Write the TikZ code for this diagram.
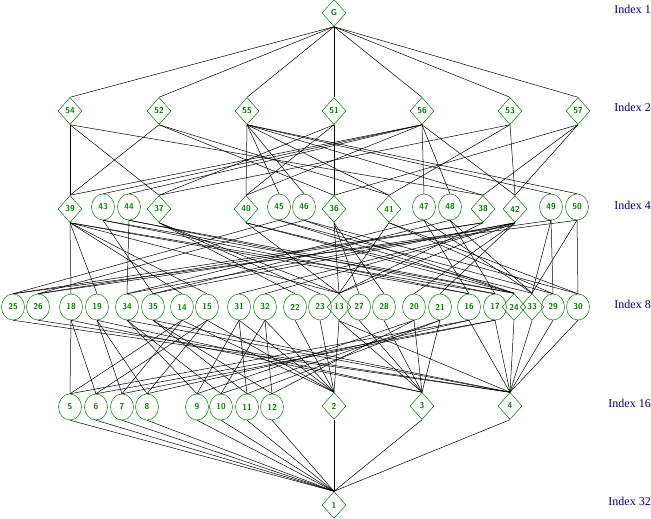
\documentclass[tikz,border=0pt]{standalone}
\usepackage{fontspec}
\newfontfamily\idxfont{Liberation Serif}
\usetikzlibrary{shapes.geometric}
\definecolor{subgreen}{RGB}{0,128,0}
\definecolor{idxblue}{RGB}{0,0,128}

\begin{document}
\begin{tikzpicture}[
    x=1pt, y=-1pt,
    line width=0.5pt,
    lbl/.style={text=subgreen,font=\sffamily\bfseries\fontsize{8.5}{9}\selectfont},
    nsub/.style={diamond,draw=subgreen,lbl,minimum width=24pt,minimum height=27pt,inner sep=0pt},
    csub/.style={ellipse,draw=subgreen,lbl,minimum width=23pt,minimum height=26pt,inner sep=0pt},
    idx/.style={anchor=east,text=idxblue,inner sep=0pt,font=\idxfont\fontsize{12}{14}\selectfont},
]
\useasboundingbox (0,0) rectangle (651,519);
% Index labels
\node[idx] (i1) at (651,9) {Index 1};
\node[idx] (i2) at (651,107) {Index 2};
\node[idx] (i4) at (651,205) {Index 4};
\node[idx] (i8) at (651,304) {Index 8};
\node[idx] (i16) at (651,403) {Index 16};
\node[idx] (i32) at (651,501) {Index 32};
% Index 1
\node[nsub] (sG) at (334,13) {G};
% Index 2
\foreach \n/\x in {54/70,52/159,55/247,51/334,56/422,53/510,57/578}
    \node[nsub] (s\n) at (\x,111) {\n};
% Index 4
\foreach \n/\x in {39/70,37/159,40/246,36/334,41/389,38/483,42/515}
    \node[nsub] (s\n) at (\x,209) {\n};
\foreach \n/\x in {43/103,44/129,45/279,46/304,47/424,48/450,49/551,50/577}
    \node[csub] (s\n) at (\x,207) {\n};
% Index 8
\foreach \n/\x in {25/13,26/38,18/71,19/97,34/127,35/153,14/182,15/207,31/239,32/265,
                   22/295,23/320,27/359,28/384,20/414,21/440,16/469,17/495,29/553,30/578}
    \node[csub] (s\n) at (\x,307) {\n};
\foreach \n/\x in {13/339,24/514,33/532}
    \node[nsub] (s\n) at (\x,307) {\n};
% Index 16
\foreach \n/\x in {5/70,6/96,7/122,8/147,9/197,10/221,11/247,12/272}
    \node[csub] (s\n) at (\x,407) {\n};
\foreach \n/\x in {2/334,3/422,4/510}
    \node[nsub] (s\n) at (\x,406) {\n};
% Index 32
\node[nsub] (s1) at (334,505) {1};
% Edges
\foreach \p/\cs in {
    G/{54,52,55,51,56,53,57},
    56/{39,40,42,43,44,47,48}, 55/{40,41,38,45,46,49,50},
    51/{40,36,37}, 54/{39,37,38}, 52/{39,36,41}, 53/{42,37,41}, 57/{42,36,38},
    39/{13,18,19,14,15,16,17}, 42/{13,34,35,31,32,20,21},
    40/{13,24,33}, 41/{13,29,30}, 38/{13,25,26}, 36/{13,27,28}, 37/{13,22,23},
    43/{24,16,35}, 44/{24,17,34}, 47/{33,16,34}, 48/{33,17,35},
    45/{24,25,29}, 46/{24,26,30}, 49/{33,26,29}, 50/{33,25,30},
    13/{2,3,4}, 24/{4}, 33/{4}, 25/{4}, 26/{4}, 29/{4}, 30/{4},
    22/{2}, 23/{2}, 27/{3}, 28/{3},
    18/{5,6,3}, 19/{7,8,3}, 14/{5,7,2}, 15/{6,8,2}, 16/{5,8,4}, 17/{6,7,4},
    34/{9,10,4}, 35/{11,12,4}, 31/{9,11,2}, 32/{10,12,2}, 20/{9,12,3}, 21/{10,11,3},
    2/{1}, 3/{1}, 4/{1}, 5/{1}, 6/{1}, 7/{1}, 8/{1}, 9/{1}, 10/{1}, 11/{1}, 12/{1}}
    \foreach \c in \cs
        \draw (s\p.south) -- (s\c.north);
\end{tikzpicture}
\end{document}
